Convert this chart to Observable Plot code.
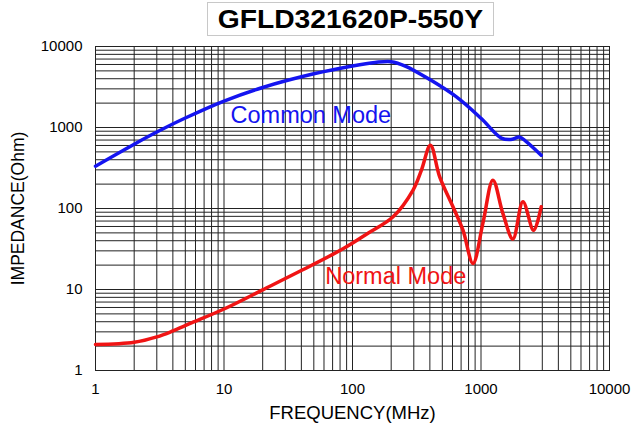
<!DOCTYPE html>
<html>
<head>
<meta charset="utf-8">
<script src="https://cdn.jsdelivr.net/npm/d3@7"></script>
<script src="https://cdn.jsdelivr.net/npm/@observablehq/plot@0.6"></script>
<style>
  html, body { margin: 0; padding: 0; background: #fff; }
  #wrap { position: relative; width: 633px; height: 432px; font-family: "Liberation Sans", Arial, sans-serif; }
  #title { position: absolute; left: 207px; top: 2px; width: 285px; height: 32px; border: 1px solid #c8c8c8;
           font-weight: bold; font-size: 25px; line-height: 32px; text-align: center; color: #000; background: #fff; }
  #title span { display: inline-block; transform: scaleX(1.13); }
  #chart { position: absolute; left: 0; top: 0; }
</style>
</head>
<body>
<div id="wrap">
  <div id="chart"></div>
  <div id="title"><span></span></div>
</div>
<script>
const titleText = "GFLD321620P-550Y";
const xLabel = "FREQUENCY(MHz)";
const yLabel = "IMPEDANCE(Ohm)";

const xTicks = [1, 10, 100, 1000, 10000];
const yTicks = [1, 10, 100, 1000, 10000];

// Common Mode (blue)
const freqCM = [1, 2, 3, 5, 10, 20, 50, 100, 150, 200, 260, 400, 640, 1000, 1440, 1700, 2000, 2250, 2940];
const zCM    = [333, 622, 879, 1310, 2120, 3120, 4600, 5750, 6350, 6500, 5700, 3900, 2400, 1300, 740, 710, 760, 670, 455];

// Normal Mode (red)
const freqNM = [1, 2, 3, 4, 5.4, 10, 20, 41, 85, 132, 207, 296, 344, 404, 477, 605, 724, 866, 1035, 1238, 1480, 1770, 2120, 2565, 2940];
const zNM    = [2.09, 2.23, 2.6, 3.08, 3.78, 5.74, 9.9, 17.5, 32, 49.5, 79, 169, 298, 605, 246, 105, 54, 21, 66, 224, 87, 42, 121, 54, 105];

const seriesNames = ["Common Mode", "Normal Mode"];
const seriesColors = ["#1414f0", "#f01414"];
const labelFreq = [47.4, 217];
const labelZ = [1413, 14.4];

const cm = freqCM.map((f, i) => ({f, z: zCM[i]}));
const nm = freqNM.map((f, i) => ({f, z: zNM[i]}));
const labels = seriesNames.map((name, i) => ({name, f: labelFreq[i], z: labelZ[i], color: seriesColors[i]}));

// log grid lines (decades and their 2..9 multiples)
const gridX = [];
for (let d = 0; d < 4; d++) for (let m = 1; m <= 9; m++) gridX.push(m * 10 ** d);
gridX.push(10000);
const gridY = gridX.slice();

document.querySelector("#title span").textContent = titleText;

const chart = Plot.plot({
  width: 633,
  height: 432,
  marginLeft: 95,
  marginRight: 24,
  marginTop: 46,
  marginBottom: 62,
  style: {fontFamily: "Liberation Sans, Arial, sans-serif", fontSize: "15px", color: "#000", background: "#fff"},
  x: {type: "log", domain: [1, 10000]},
  y: {type: "log", domain: [1, 10000]},
  marks: [
    Plot.ruleX(gridX, {x: d => d, stroke: "#222", strokeWidth: 1}),
    Plot.ruleY(gridY, {y: d => d, stroke: "#222", strokeWidth: 1}),
    Plot.frame({stroke: "#222", strokeWidth: 1}),
    Plot.axisX({ticks: xTicks, tickFormat: d => String(d), tickSize: 0, tickPadding: 13, fontSize: 15, label: null}),
    Plot.axisY({ticks: yTicks, tickFormat: d => String(d), tickSize: 0, tickPadding: 13, fontSize: 15, label: null}),
    Plot.line(cm, {x: "f", y: "z", stroke: seriesColors[0], strokeWidth: 3.5, curve: "catmull-rom"}),
    Plot.line(nm, {x: "f", y: "z", stroke: seriesColors[1], strokeWidth: 3.5, curve: "catmull-rom"}),
    Plot.text(labels, {x: "f", y: "z", text: "name", fill: "color", fontSize: 23.5}),
    Plot.text([xLabel], {frameAnchor: "bottom", dy: 43, lineAnchor: "middle", textAnchor: "middle", text: d => d, fontSize: 18.5, fill: "#000"}),
    Plot.text([yLabel], {frameAnchor: "left", dx: -77, rotate: -90, textAnchor: "middle", lineAnchor: "middle", text: d => d, fontSize: 17.5, fill: "#000"})
  ]
});
document.getElementById("chart").appendChild(chart);
</script>
</body>
</html>
